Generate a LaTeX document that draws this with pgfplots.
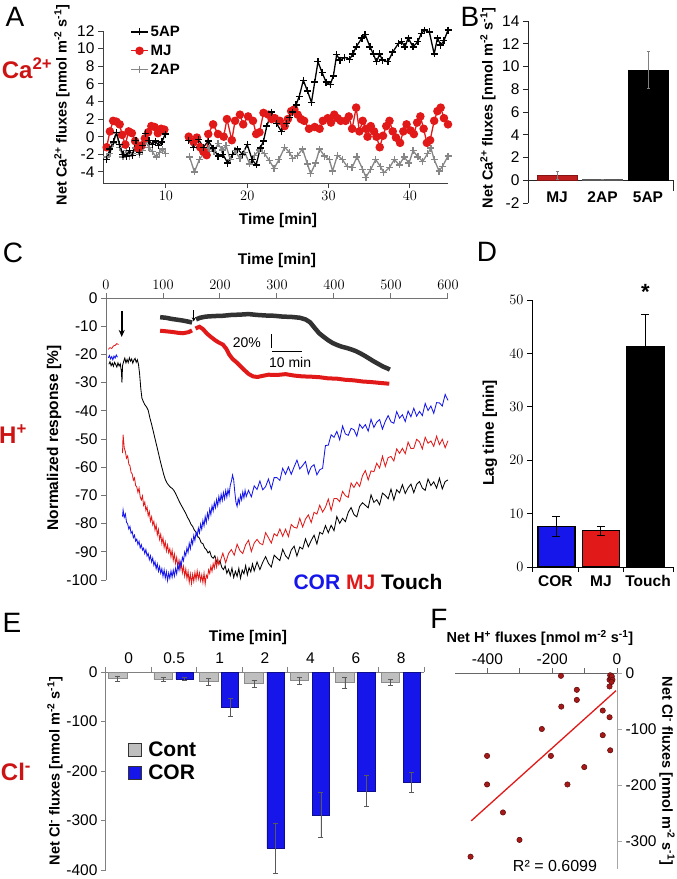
\documentclass[border=0pt]{standalone}
\usepackage{fontspec}
\setmainfont{Liberation Sans}
\setsansfont{Liberation Sans}
\usepackage{pgfplots}
\pgfplotsset{compat=1.18}
\usetikzlibrary{arrows.meta}
\definecolor{myred}{RGB}{225,25,25}
\definecolor{darkred}{RGB}{190,30,30}
\definecolor{myblue}{RGB}{22,22,235}
\definecolor{ionred}{RGB}{205,20,20}
\definecolor{ptred}{RGB}{165,25,25}
\definecolor{ptedge}{RGB}{90,10,10}
\definecolor{insetblack}{RGB}{50,50,50}
\newcommand{\fs}[1]{\fontsize{#1}{#1}\selectfont}
\begin{document}
\begin{tikzpicture}
\useasboundingbox (0,0) rectangle (677pt,-879pt);
\pgfplotsset{every axis/.append style={scale only axis, tick align=outside, major tick length=5pt,
  tick label style={font=\fs{15.5}}, clip=false}}

% ---------------- Panel A ----------------
\begin{axis}[at={(103pt,-183pt)}, anchor=south west, width=345pt, height=152pt,
  xmin=2.25, xmax=44.7, ymin=-5.26, ymax=12,
  axis lines*=left, axis line style={black!75, line width=1pt},
  tick style={black!75, line width=1pt},
  xtick={10,20,30,40}, ytick={-4,-2,0,2,4,6,8,10,12},
  yticklabels={-4,-2,0,2,4,6,8,10,12},
  unbounded coords=jump,
  legend style={at={(0.07,1.06)}, anchor=north west, draw=none, fill=none,
    font=\bfseries\fs{15}, row sep=3pt},
  legend cell align=left, reverse legend]
\addplot[gray!95, line width=1.3pt, mark=+, mark size=3.5pt, mark options={line width=1.3pt}] coordinates {
(2.7,-2.3) (3.1,-1.9) (3.5,-0.8) (3.9,0.4) (4.3,-1.2) (4.7,-2.3) (5.1,-1.6) (5.5,-2.2) (5.9,-1.9) (6.3,-1.3) (6.7,-2.0) (7.1,-1.6) (7.5,-0.6) (7.9,-1.2) (8.3,-1.7) (8.8,-2.3) (9.2,-1.8) (9.6,-1.4) (9.9,-1.9)
(11.5,nan)
(12.9,-2.3) (13.5,-4.0) (14.1,-2.6) (14.8,-1.7) (15.3,-1.3) (15.9,-1.7) (16.4,-0.8) (16.9,-1.5) (17.4,-1.0) (17.9,-2.6) (18.5,-1.6) (19.1,-2.5) (19.7,-1.8) (20.3,-3.1) (20.9,-2.1) (21.5,-1.5) (22.1,-1.9) (22.7,-2.7) (23.3,-3.6) (23.9,-2.6) (24.6,-1.2) (25.2,-1.8) (25.6,-2.5) (26.2,-2.1) (26.8,-1.4) (27.4,-3.1) (27.8,-4.2) (28.4,-3.0) (28.9,-1.4) (29.5,-2.2) (30.1,-2.6) (30.5,-3.9) (31.1,-2.1) (31.7,-2.6) (32.3,-3.4) (32.9,-3.5) (33.5,-2.3) (34.2,-3.7) (34.6,-4.6) (35.2,-3.7) (35.8,-2.6) (36.4,-3.4) (36.8,-4.1) (37.5,-3.5) (38.1,-2.6) (38.7,-3.2) (39.3,-2.3) (39.9,-3.0) (40.4,-1.6) (41.0,-2.3) (41.6,-2.8) (42.2,-1.9) (42.6,-1.3) (43.0,-2.6) (43.6,-3.9) (44.0,-3.4) (44.7,-2.2)};
\addlegendentry{2AP}
\addplot[myred, line width=1.3pt, mark=*, mark size=3.6pt] coordinates {
(2.7,-1.2) (3.1,0.6) (3.5,1.8) (3.9,1.7) (4.3,1.4) (4.6,0.2) (5.0,-0.9) (5.4,0.6) (5.8,0.4) (6.2,-0.5) (6.6,-1.3) (7.0,-1.0) (7.4,-0.2) (7.8,0.5) (8.2,1.2) (8.6,1.1) (9.0,0.4) (9.4,0.9) (9.8,0.8)
(11.5,nan)
(12.8,0) (13.4,-0.6) (13.8,-0.1) (14.2,-1.2) (14.6,-1.7) (15.0,-2.1) (15.2,0.3) (15.8,1.4) (16.4,0.3) (17.1,0) (17.5,2.0) (18.1,-0.4) (18.5,1.8) (19.1,2.5) (19.5,1.4) (20.1,2.3) (20.7,1.8) (21.1,0.3) (21.5,0.5) (22.0,2.7) (22.6,2.5) (23.0,2.0) (23.4,2.1) (24.0,1.8) (24.6,1.2) (25.0,2.0) (25.4,2.9) (25.8,3.1) (26.2,2.5) (26.6,2.0) (27.0,1.8) (27.6,0.9) (28.3,1.1) (28.9,0.9) (29.3,1.8) (29.9,2.1) (30.3,1.6) (30.7,2.5) (31.1,2.1) (31.5,1.8) (32.1,1.8) (32.5,2.3) (32.9,0.9) (33.4,3.3) (33.8,0.6) (34.2,1.8) (34.6,0.9) (34.8,0) (35.2,1.2) (35.6,0.6) (35.9,0) (36.3,-1.2) (36.7,0.1) (37.1,1.2) (37.5,1.8) (37.9,0.6) (38.3,-0.1) (38.8,-0.7) (39.2,0.6) (39.6,1.4) (40.1,0.7) (40.5,0.3) (40.9,1.6) (41.3,2.3) (41.7,0.9) (42.1,-0.7) (42.5,-0.4) (43.0,1.8) (43.4,2.9) (43.8,3.3) (44.2,2.1) (44.7,1.4)};
\addlegendentry{MJ}
\addplot[black, line width=1.3pt, mark=+, mark size=3.5pt, mark options={line width=1.3pt}] coordinates {
(2.7,-2.6) (3.1,-1.4) (3.5,-0.6) (3.9,0.5) (4.3,-0.9) (4.7,-2.0) (5.1,-2.2) (5.5,-1.6) (5.9,-2.1) (6.3,-0.4) (6.7,-1.8) (7.1,-1.0) (7.5,0.4) (7.9,-0.4) (8.3,-0.9) (8.7,-0.5) (9.1,-1.0) (9.5,-0.6) (9.9,0.3)
(11.5,nan)
(12.8,-0.4) (13.4,-1.2) (14.0,-0.3) (14.6,-1.2) (15.2,-0.5) (15.8,-1.3) (16.4,-2.2) (17.0,-2.0) (17.6,-3.0) (18.2,-2.0) (18.8,-1.4) (19.4,-2.0) (20.0,-0.9) (20.6,-2.6) (21.1,-3.2) (21.6,-1.3) (22.0,-0.5) (22.4,1.2) (23.0,2.8) (23.6,1.5) (24.2,0.6) (24.8,1.5) (25.2,2.2) (25.6,2.8) (26.0,3.6) (26.4,4.6) (26.9,6.4) (27.4,5.2) (27.9,3.9) (28.3,6.2) (28.7,8.5) (29.2,7.3) (29.7,6.2) (30.2,5.9) (30.6,6.9) (31.0,9.3) (31.4,8.7) (32.0,9.0) (32.6,8.8) (33.0,9.4) (33.4,10.2) (34.1,11.2) (34.5,11.6) (35.1,10.2) (35.5,9.4) (35.9,8.5) (36.3,9.4) (36.6,8.7) (37.3,8.5) (37.9,9.6) (38.6,10.6) (39.0,10.8) (39.4,10.2) (39.8,11.2) (40.4,10.2) (41.0,10.8) (41.4,11.7) (41.8,12.1) (42.4,11.9) (43.0,9.4) (43.4,11.2) (43.8,10.4) (44.2,10.9) (44.7,12.1)};
\addlegendentry{5AP}
\end{axis}

% ---------------- Panel B ----------------
\begin{axis}[at={(528pt,-203pt)}, anchor=south west, width=145pt, height=182pt,
  xmin=0.36, xmax=3.55, ymin=-2, ymax=14,
  axis y line*=left, axis x line*=middle,
  axis line style={black!85, line width=1pt},
  ytick style={black!85, line width=1pt}, xtick style={draw=none},
  ytick={-2,0,2,4,6,8,10,12,14}, yticklabels={-2,0,2,4,6,8,10,12,14},
  xtick={1,2,3}, xticklabels={MJ,2AP,5AP},
  xticklabel style={font=\bfseries\fs{15.5}, yshift=-3pt}]
\addplot[ybar, bar shift=0pt, bar width=0.88, fill=darkred, draw=darkred!70!black,
  error bars/.cd, y dir=both, y explicit, error bar style={gray, line width=0.6pt},
  error mark options={rotate=90, gray, mark size=1.5pt}] coordinates {(1,0.45) +- (0,0.35)};
\addplot[ybar, bar shift=0pt, bar width=0.88, fill=black!65, draw=black!65,
  error bars/.cd, y dir=both, y explicit, error bar style={gray, line width=0.6pt},
  error mark options={rotate=90, gray, mark size=1.5pt}] coordinates {(2,0.08) +- (0,0.03)};
\addplot[ybar, bar shift=0pt, bar width=0.88, fill=black, draw=black,
  error bars/.cd, y dir=both, y explicit, error bar style={gray, line width=0.6pt},
  error mark options={rotate=90, gray, mark size=1.5pt}] coordinates {(3,9.7) +- (0,1.65)};
\draw[black!85, line width=1pt] (axis cs:3.55,0) -- ++(0pt,-11pt);
\end{axis}

% ---------------- Panel C ----------------
\begin{axis}[at={(106pt,-580pt)}, anchor=south west, width=342pt, height=282pt,
  xmin=0, xmax=600, ymin=-100, ymax=0,
  axis x line*=top, axis y line*=left,
  axis line style={black!55, line width=1pt}, tick style={black!55, line width=1pt},
  xtick={0,100,200,300,400,500,600},
  ytick={-100,-90,-80,-70,-60,-50,-40,-30,-20,-10,0},
  yticklabels={-100,-90,-80,-70,-60,-50,-40,-30,-20,-10,0}]
% inset traces
\addplot[insetblack, line width=4.5pt] coordinates {
(95,-6.8) (105,-7.0) (115,-7.4) (125,-7.7) (135,-8.0) (145,-8.4) (151,-8.7)};
\addplot[insetblack, line width=4.5pt] coordinates {
(158,-7.6) (165,-7.0) (175,-6.6) (190,-6.4) (205,-6.3) (220,-6.0) (235,-5.9) (250,-5.7) (265,-6.0) (280,-6.2) (295,-6.3) (310,-6.6) (325,-6.7) (340,-7.0) (350,-7.6) (358,-8.6) (366,-10.6) (374,-12.5) (382,-13.8) (390,-15.0) (398,-16.0) (406,-16.7) (414,-17.3) (422,-17.7) (430,-18.2) (438,-18.8) (446,-19.6) (454,-20.5) (462,-21.5) (470,-22.5) (478,-23.4) (486,-24.3) (494,-25.0) (498,-25.4)};
\addplot[myred, line width=4pt] coordinates {
(95,-11.6) (105,-11.8) (115,-12.0) (125,-12.3) (135,-12.5) (145,-12.1) (151,-11.5)};
\addplot[myred, line width=4pt] coordinates {
(157,-10.8) (164,-10.2) (170,-11.0) (177,-12.6) (184,-13.8) (191,-14.9) (198,-15.8) (205,-16.5) (211,-18.0) (216,-20.0) (222,-21.6) (229,-22.8) (236,-24.2) (243,-25.6) (250,-26.9) (258,-27.8) (266,-28.0) (275,-27.6) (285,-27.2) (300,-27.3) (315,-27.0) (330,-27.5) (345,-27.8) (360,-27.9) (375,-28.1) (390,-28.5) (405,-28.6) (420,-29.0) (435,-29.2) (450,-29.6) (465,-29.8) (480,-30.1) (497,-30.4)};
% short pre-stimulus pieces
\addplot[myred, line width=0.85pt] coordinates {(4,-18.2) (7,-17.6) (10,-17.9) (13,-17.0) (16,-16.8) (19,-16.2) (22,-16.5)};
\addplot[myblue, line width=0.85pt] coordinates {(4,-21.2) (6,-20.4) (8,-21.6) (10,-20.8) (12,-21.9) (14,-20.6) (16,-21.3) (18,-20.2) (20,-21.0)};
% Touch (black)
\addplot[black, line width=0.85pt] coordinates {
(5,-23.5) (7,-22.6) (9,-24.0) (11,-23.1) (13,-24.2) (15,-22.8) (17,-23.6) (19,-24.5) (21,-23.0) (23,-24.1) (25,-23.3) (27,-26.0) (28,-30.0) (29,-24.0) (31,-22.5) (33,-21.3) (35,-23.0) (37,-21.8) (39,-22.9) (41,-21.2) (43,-22.4) (45,-21.6) (47,-23.1) (49,-22.0) (51,-21.4) (53,-22.8) (55,-21.9) (57,-23.5) (59,-27.0) (61,-32.0) (63,-35.5)
(65,-36.5) (68,-37.8) (71,-38.6) (74,-39.8) (77,-42.5) (80,-44.8) (83,-47.3) (86,-49.9) (89,-52.4) (92,-55.0) (95,-57.6) (98,-60.0) (101,-62.4) (104,-64.3) (107,-65.6) (110,-66.4) (113,-67.1) (116,-67.5) (119,-68.2) (122,-69.3) (125,-70.6) (128,-71.9) (131,-73.1) (134,-74.2) (137,-75.3) (140,-76.4) (143,-77.8) (146,-78.8) (149,-80.2) (152,-81.0) (155,-82.3) (158,-83.1) (161,-84.6) (164,-85.2) (167,-86.8) (170,-87.1) (173,-88.6) (176,-89.2) (179,-90.4) (182,-89.8) (185,-91.7) (188,-92.3) (191,-91.4) (194,-93.6) (197,-94.2) (200,-93.1) (203,-95.5) (206,-96.3) (209,-95.0) (212,-97.6) (215,-96.2) (218,-98.4) (221,-95.8) (224,-99.1) (227,-96.9) (230,-98.7) (233,-95.9) (236,-99.4) (239,-96.5) (242,-97.8) (245,-94.9) (248,-98.2) (251,-95.6) (254,-97.1) (257,-94.3) (260,-96.8)
(265,-93.6) (270,-96.3) (275,-93.7) (280,-91.7) (285,-94.1) (290,-95.4) (295,-91.2) (300,-92.2) (305,-93.1) (310,-89.1) (315,-91.4) (320,-92.5) (325,-89.4) (330,-88.0) (335,-91.5) (340,-88.3) (345,-89.0) (350,-85.4) (355,-88.2) (360,-86.0) (365,-84.1) (370,-87.2) (375,-83.1) (380,-83.7) (385,-80.7) (390,-83.2) (395,-80.6) (400,-82.5) (405,-77.5) (410,-79.9) (415,-78.1) (420,-79.3) (425,-76.0) (430,-74.3) (435,-76.8) (440,-77.6) (445,-73.9) (450,-72.6) (455,-73.5) (460,-74.4) (465,-69.8) (470,-72.5) (475,-71.5) (480,-73.3) (485,-69.2) (490,-70.0) (495,-71.2) (500,-67.8) (505,-71.6) (510,-68.0) (515,-69.1) (520,-66.2) (525,-69.3) (530,-67.3) (535,-66.0) (540,-69.0) (545,-66.1) (550,-65.1) (555,-67.4) (560,-68.2) (565,-64.2) (570,-66.5) (575,-65.2) (580,-67.4) (585,-63.9) (590,-67.7) (595,-65.1) (600,-64.5)};
% MJ (red)
\addplot[myred, line width=0.85pt] coordinates {
(29,-55.0) (30,-48.5) (32,-53.2) (34,-54.5) (36,-56.8) (38,-56.0) (40,-58.9) (42,-59.5) (44,-61.8) (46,-62.4) (48,-64.6) (50,-63.8) (52,-66.5) (54,-67.0) (56,-68.9) (58,-67.4) (60,-70.5) (62,-71.6) (64,-70.2) (66,-73.5) (68,-72.4) (70,-75.3) (72,-74.1) (74,-77.2) (76,-75.8) (78,-79.1) (80,-77.6) (82,-80.4) (84,-79.2) (86,-82.3) (88,-80.5) (90,-84.0) (92,-82.1) (94,-85.6) (96,-83.8) (98,-87.0) (100,-85.1) (102,-88.4) (104,-86.5) (106,-89.7) (108,-87.6) (110,-90.3) (112,-88.9) (114,-91.8) (116,-89.5) (118,-93.0) (120,-90.8) (122,-94.1) (124,-92.0) (126,-95.3) (128,-93.1) (130,-96.2) (132,-94.0) (134,-97.4) (136,-95.2) (138,-98.6) (140,-96.1) (142,-99.5) (144,-97.0) (146,-100.8) (148,-97.9) (150,-101.2) (152,-98.0) (154,-100.5) (156,-97.3) (158,-99.9) (160,-96.8) (162,-99.6) (164,-97.5) (166,-100.3) (168,-98.2) (170,-100.9) (172,-97.6) (174,-101.4) (176,-98.3) (178,-99.2) (180,-96.4) (182,-97.7) (184,-95.1) (186,-96.9) (188,-94.2) (190,-95.8) (192,-93.0) (194,-95.3) (196,-92.4) (198,-94.6)
(200,-93.6) (205,-90.5) (210,-93.9) (215,-90.6) (220,-89.2) (225,-91.2) (230,-87.3) (235,-89.6) (240,-90.6) (245,-87.5) (250,-85.9) (255,-89.9) (260,-86.9) (265,-85.6) (270,-87.0) (275,-87.5) (280,-83.2) (285,-85.0) (290,-86.9) (295,-83.6) (300,-84.4) (305,-81.9) (310,-84.5) (315,-82.0) (320,-84.6) (325,-80.3) (330,-81.3) (335,-81.6) (340,-78.1) (345,-81.2) (350,-78.4) (355,-76.9) (360,-79.6) (365,-76.0) (370,-76.6) (375,-73.5) (380,-75.9) (385,-74.2) (390,-71.3) (395,-75.3) (400,-71.1) (405,-71.1) (410,-72.2) (415,-68.6) (420,-70.1) (425,-70.7) (430,-65.6) (435,-67.2) (440,-65.3) (445,-66.8) (450,-63.0) (455,-61.2) (460,-64.5) (465,-61.3) (470,-61.6) (475,-58.6) (480,-60.3) (485,-56.1) (490,-59.7) (495,-56.6) (500,-56.2) (505,-57.8) (510,-53.5) (515,-55.1) (520,-53.3) (525,-55.2) (530,-51.1) (535,-53.4) (540,-53.3) (545,-50.1) (550,-51.0) (555,-53.5) (560,-49.4) (565,-51.5) (570,-50.7) (575,-52.6) (580,-49.0) (585,-52.0) (590,-50.1) (595,-53.1) (600,-50.6)};
% COR (blue)
\addplot[myblue, line width=0.85pt] coordinates {
(29,-77.5) (30,-75.2) (32,-77.8) (34,-76.6) (36,-79.5) (38,-80.1) (40,-81.9) (42,-81.0) (44,-83.4) (46,-82.8) (48,-85.0) (50,-84.1) (52,-86.2) (54,-85.5) (56,-87.4) (58,-86.3) (60,-88.6) (62,-87.5) (64,-89.4) (66,-88.7) (68,-90.6) (70,-89.2) (72,-91.5) (74,-90.6) (76,-92.8) (78,-91.4) (80,-93.6) (82,-92.2) (84,-94.8) (86,-93.5) (88,-96.0) (90,-94.3) (92,-96.9) (94,-95.2) (96,-97.6) (98,-96.0) (100,-98.7) (102,-96.4) (104,-99.3) (106,-97.1) (108,-100.2) (110,-97.5) (112,-99.4) (114,-96.8) (116,-99.0) (118,-96.5) (120,-98.6) (122,-95.9) (124,-97.8) (126,-94.6) (128,-96.5) (130,-93.4) (132,-95.1) (134,-92.0) (136,-93.2) (138,-90.1) (140,-91.4) (142,-88.6) (144,-90.2) (146,-87.0) (148,-88.9) (150,-85.7) (152,-87.3) (154,-84.2) (156,-86.0) (158,-83.1) (160,-84.4) (162,-81.6) (164,-83.3) (166,-80.2) (168,-82.0) (170,-78.9) (172,-80.8) (174,-77.5) (176,-79.6) (178,-76.3) (180,-78.2) (182,-74.9) (184,-76.8) (186,-73.7) (188,-75.5) (190,-72.6) (192,-74.4) (194,-71.5) (196,-73.6) (198,-70.4) (200,-72.5) (202,-69.6) (204,-71.8) (206,-69.0) (208,-71.2) (210,-68.3) (212,-70.6) (214,-67.9) (216,-69.8) (218,-66.4) (220,-65.0) (222,-62.8) (224,-64.5) (226,-68.9) (228,-72.4) (230,-73.9) (232,-71.2) (234,-72.8) (236,-69.9) (238,-71.6) (240,-68.8) (242,-70.9) (244,-68.2) (246,-70.4)
(250,-68.2) (255,-70.5) (260,-66.6) (265,-67.9) (270,-64.9) (275,-68.0) (280,-66.9) (285,-64.2) (290,-67.7) (295,-63.7) (300,-63.7) (305,-64.7) (310,-60.4) (315,-62.5) (320,-59.9) (325,-62.5) (330,-59.9) (335,-57.5) (340,-60.6) (345,-59.4) (350,-58.0) (355,-62.4) (360,-59.9) (365,-59.1) (370,-62.7) (375,-60.9) (380,-60.4) (385,-52.3) (390,-52.2) (395,-48.5) (400,-49.4) (405,-47.3) (410,-50.3) (415,-45.4) (420,-48.2) (425,-48.7) (430,-46.2) (435,-46.7) (440,-49.0) (445,-44.8) (450,-46.2) (455,-44.9) (460,-47.2) (465,-43.0) (470,-45.9) (475,-44.0) (480,-43.1) (485,-46.5) (490,-43.7) (495,-41.7) (500,-43.9) (505,-44.4) (510,-40.3) (515,-42.6) (520,-41.4) (525,-43.8) (530,-40.1) (535,-42.1) (540,-39.1) (545,-41.9) (550,-40.2) (555,-41.7) (560,-37.4) (565,-39.9) (570,-38.3) (575,-40.9) (580,-37.1) (585,-37.2) (590,-38.3) (595,-34.2) (600,-36.3)};
% annotations
\draw[-{Stealth[length=7pt,width=6pt]}, line width=1.6pt] (axis cs:27.6,-4.6) -- (axis cs:27.6,-13.8);
\draw[-{Stealth[length=4pt,width=4pt]}, line width=0.9pt] (axis cs:154,-4.3) -- (axis cs:154,-8.3);
\draw[line width=1pt] (axis cs:291,-12.9) -- (axis cs:291,-17.7);
\draw[line width=1pt] (axis cs:291,-19.0) -- (axis cs:344,-19.0);
\node[font=\fs{14}] at (axis cs:247,-16.0) {20\%};
\node[font=\fs{14}] at (axis cs:323,-23.0) {10 min};
\end{axis}

% ---------------- Panel D ----------------
\begin{axis}[at={(532pt,-567pt)}, anchor=south west, width=141pt, height=267pt,
  xmin=0.45, xmax=3.62, ymin=0, ymax=50,
  axis lines*=left, axis line style={black, line width=1pt}, tick style={black, line width=1pt},
  ytick={0,10,20,30,40,50}, xtick={0.45,1.5,2.5,3.62},
  x tick label as interval, xticklabels={COR,MJ,Touch},
  xticklabel style={font=\bfseries\fs{15.5}}]
\addplot[ybar, bar shift=0pt, bar width=0.83, fill=myblue, draw=black, line width=1.3pt,
  error bars/.cd, y dir=both, y explicit, error bar style={black, line width=1pt},
  error mark options={rotate=90, black, mark size=4pt, line width=1pt}] coordinates {(1,7.6) +- (0,1.9)};
\addplot[ybar, bar shift=0pt, bar width=0.83, fill=myred, draw=black, line width=1.3pt,
  error bars/.cd, y dir=both, y explicit, error bar style={black, line width=1pt},
  error mark options={rotate=90, black, mark size=4pt, line width=1pt}] coordinates {(2,6.8) +- (0,0.85)};
\addplot[ybar, bar shift=0pt, bar width=0.83, fill=black, draw=black, line width=1.3pt,
  error bars/.cd, y dir=both, y explicit, error bar style={black, line width=1pt},
  error mark options={rotate=90, black, mark size=4pt, line width=1pt}] coordinates {(3,41.2) +- (0,6.0)};
\end{axis}

% ---------------- Panel E ----------------
\begin{axis}[at={(106pt,-870pt)}, anchor=south west, width=318pt, height=198pt,
  xmin=-0.5, xmax=6.5, ymin=-400, ymax=0,
  axis x line*=top, axis y line*=left,
  axis line style={black!50, line width=1pt}, tick style={black!50, line width=1pt},
  xtick={-0.5,0.5,1.5,2.5,3.5,4.5,5.5,6.5}, x tick label as interval,
  xticklabels={0,0.5,1,2,4,6,8},
  ytick={-400,-300,-200,-100,0}, yticklabels={-400,-300,-200,-100,0},
  legend style={at={(0.06,0.67)}, anchor=north west, draw=none, fill=none,
    font=\bfseries\fs{21}, row sep=3pt},
  legend cell align=left,
  legend image code/.code={\draw[#1, draw=black!80, line width=1pt] (0pt,-6.5pt) rectangle (13pt,6.5pt);}]
\addplot[ybar, bar shift=0pt, bar width=0.41, fill=black!25, draw=black!45, line width=0.8pt,
  error bars/.cd, y dir=both, y explicit, error bar style={black!65, line width=0.7pt},
  error mark options={rotate=90, black!65, mark size=2.5pt, line width=0.7pt}] coordinates {
(-0.24,-13.5) +- (0,5) (0.76,-15.5) +- (0,4) (1.76,-19) +- (0,7) (2.76,-23.6) +- (0,7)
(3.76,-17) +- (0,7) (4.76,-21) +- (0,11) (5.76,-21) +- (0,6)};
\addlegendentry{\hspace{4pt}Cont}
\addplot[ybar, bar shift=0pt, bar width=0.38, fill=myblue, draw=myblue!60!black, line width=0.6pt,
  error bars/.cd, y dir=both, y explicit, error bar style={black!65, line width=0.7pt},
  error mark options={rotate=90, black!65, mark size=2.5pt, line width=0.7pt}] coordinates {
(1.23,-14) +- (0,3) (2.23,-71.5) +- (0,19) (3.23,-356) +- (0,50) (4.23,-289) +- (0,46)
(5.23,-240) +- (0,32) (6.23,-223) +- (0,20)};
\addlegendentry{\hspace{4pt}COR}
\end{axis}

% ---------------- Panel F ----------------
\begin{axis}[at={(455pt,-869pt)}, anchor=south west, width=162pt, height=196pt,
  xmin=-500, xmax=0, ymin=-350, ymax=0,
  axis x line*=top, axis y line*=right,
  x axis line style={black!60, line width=1pt}, y axis line style={black!35, line width=1pt},
  xtick style={black!60, line width=1pt}, ytick style={black!35, line width=1pt},
  xtick={-400,-300,-200,-100,0}, xticklabels={-400,,-200,,0},
  ytick={-300,-200,-100,0}, yticklabels={-300,-200,-100,0}]
\addplot[myred, line width=1.3pt] coordinates {(-450,-264) (-3,-31.5)};
\addplot[only marks, mark=*, mark size=2.7pt, mark options={fill=ptred, draw=ptedge, line width=0.5pt}] coordinates {
(-173,-5) (-124,-30) (-124,-48) (-172,-60) (-232,-100) (-204,-148) (-401,-148) (-401,-199)
(-101,-168) (-153,-199) (-352,-249) (-301,-298) (-452,-328)
(-21,-4) (-23,-12) (-18,-10) (-16,-6) (-14,-12) (-17,-16) (-23,-24)
(-44,-67) (-23,-79) (-44,-111) (-21,-138)};
\end{axis}

% ---------------- text ----------------
\node[font=\fs{28}] at (15pt,-17pt) {A};
\node[font=\fs{28}] at (470pt,-17pt) {B};
\node[font=\fs{28}] at (13pt,-253pt) {C};
\node[font=\fs{28}] at (487pt,-252pt) {D};
\node[font=\fs{28}] at (12pt,-623pt) {E};
\node[font=\fs{28}] at (439pt,-619pt) {F};
\node[font=\bfseries\fs{24}, text=ionred] at (27pt,-68pt) {Ca\textsuperscript{2+}};
\node[font=\bfseries\fs{24}, text=ionred] at (13pt,-434pt) {H\textsuperscript{+}};
\node[font=\bfseries\fs{24}, text=ionred] at (16pt,-772pt) {Cl\textsuperscript{-}};
\node[font=\bfseries\fs{15.5}] at (278pt,-220pt) {Time [min]};
\node[font=\bfseries\fs{14.5}, rotate=90] at (62pt,-105pt) {Net Ca\textsuperscript{2+} fluxes [nmol m\textsuperscript{-2} s\textsuperscript{-1}]};
\node[font=\bfseries\fs{14.5}, rotate=90] at (488pt,-108pt) {Net Ca\textsuperscript{2+} fluxes [nmol m\textsuperscript{-2} s\textsuperscript{-1}]};
\node[font=\bfseries\fs{15.5}] at (277pt,-260pt) {Time [min]};
\node[font=\bfseries\fs{15.5}, rotate=90] at (54pt,-438pt) {Normalized response [\%]};
\node[font=\bfseries\fs{21}, anchor=east] at (446pt,-582pt) {\textcolor{myblue}{COR} \textcolor{myred}{MJ} Touch};
\node[font=\bfseries\fs{15.5}, rotate=90] at (490pt,-433pt) {Lag time [min]};
\node[font=\bfseries\fs{22}, anchor=base] at (645.5pt,-299pt) {*};
\node[font=\bfseries\fs{15.5}] at (248pt,-637pt) {Time [min]};
\node[font=\bfseries\fs{14.5}, rotate=90] at (55pt,-771pt) {Net Cl\textsuperscript{-} fluxes [nmol m\textsuperscript{-2} s\textsuperscript{-1}]};
\node[font=\bfseries\fs{14.5}] at (540pt,-638pt) {Net H\textsuperscript{+} fluxes [nmol m\textsuperscript{-2} s\textsuperscript{-1}]};
\node[font=\bfseries\fs{14.5}, rotate=-90] at (667pt,-771pt) {Net Cl\textsuperscript{-} fluxes [nmol m\textsuperscript{-2} s\textsuperscript{-1}]};
\node[font=\fs{16}] at (555pt,-866pt) {R² = 0.6099};
\end{tikzpicture}
\end{document}
